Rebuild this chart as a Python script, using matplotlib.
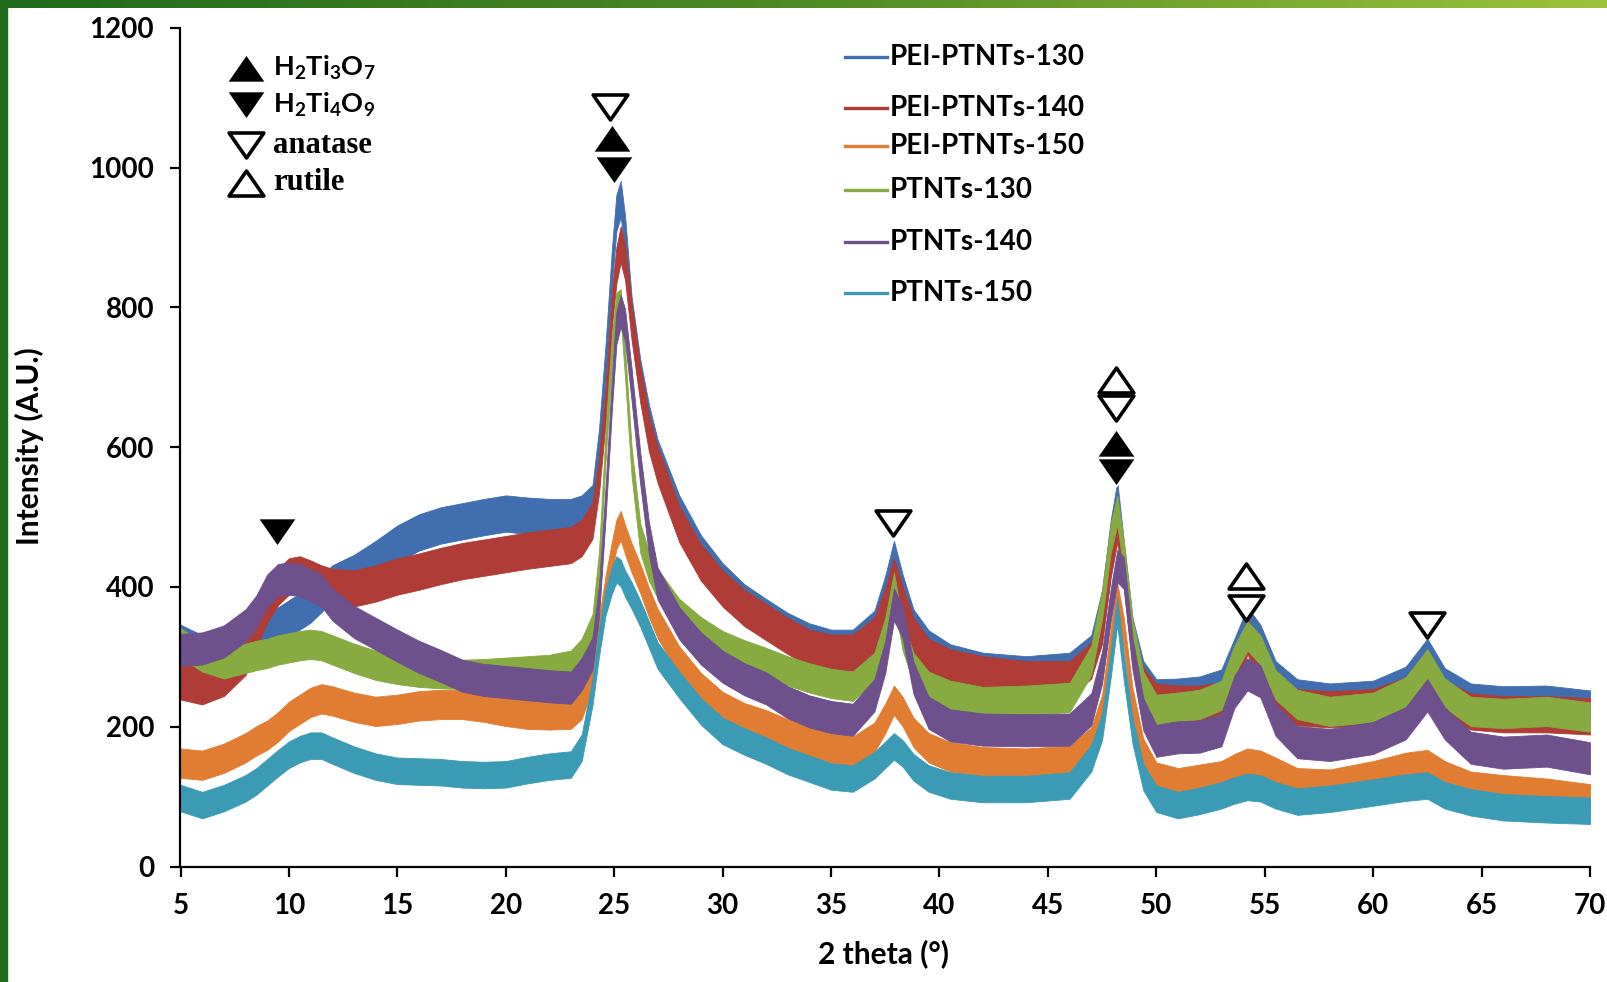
import numpy as np
import matplotlib as mpl
mpl.use('Agg')
import matplotlib.pyplot as plt
from matplotlib.path import Path
from matplotlib.patches import Rectangle
from matplotlib.colors import LinearSegmentedColormap

# values
two_theta = [5, 6, 7, 8, 8.5, 9, 9.5, 10, 10.5, 11,
             11.5, 12, 13, 14, 15, 16, 17, 18, 19, 20,
             21, 22, 23, 23.5, 24, 24.3, 24.6, 24.9, 25.1, 25.3,
             25.5, 25.8, 26.2, 26.6, 27, 28, 29, 30, 31, 32,
             33, 34, 35, 36, 37, 37.5, 37.9, 38.3, 38.8, 39.5,
             40.5, 42, 44, 46, 47, 47.5, 47.9, 48.2, 48.5, 48.9,
             49.4, 50, 51, 52, 53, 53.6, 54.2, 54.8, 55.5, 56.5,
             58, 60, 61.5, 62.5, 63.3, 64.5, 66, 68, 70]

pei_ptnts_130 = [320, 305, 305, 315, 325, 335, 345, 355, 365, 375,
                 390, 405, 420, 440, 462, 478, 488, 494, 500, 505,
                 502, 500, 500, 505, 520, 600, 720, 860, 935, 955,
                 905, 790, 700, 635, 585, 505, 448, 408, 378, 357,
                 337, 322, 313, 313, 340, 390, 440, 392, 342, 312,
                 292, 280, 275, 280, 305, 370, 470, 525, 440, 330,
                 268, 242, 243, 246, 256, 300, 345, 320, 268, 242,
                 236, 240, 260, 300, 258, 236, 232, 233, 226]

pei_ptnts_140 = [265, 258, 270, 300, 340, 375, 400, 415, 418, 412,
                 405, 400, 398, 405, 415, 422, 430, 437, 442, 447,
                 452, 456, 460, 470, 495, 560, 660, 800, 860, 890,
                 865, 780, 690, 620, 575, 490, 435, 398, 370, 350,
                 330, 313, 306, 306, 330, 372, 415, 375, 330, 300,
                 285, 275, 268, 268, 295, 345, 440, 490, 425, 315,
                 258, 236, 233, 233, 238, 265, 330, 290, 245, 228,
                 225, 228, 245, 285, 240, 222, 218, 218, 215]

pei_ptnts_150 = [148, 145, 155, 170, 180, 188, 200, 215, 225, 235,
                 240, 237, 228, 222, 225, 230, 232, 232, 228, 222,
                 218, 217, 218, 232, 275, 335, 395, 445, 475, 488,
                 468, 442, 412, 378, 348, 294, 256, 229, 213, 203,
                 190, 178, 170, 165, 185, 212, 238, 222, 192, 170,
                 157, 150, 148, 152, 178, 225, 320, 385, 335, 235,
                 162, 128, 120, 125, 130, 140, 148, 145, 135, 120,
                 118, 130, 142, 146, 130, 115, 110, 105, 97]

ptnts_130 = [320, 300, 290, 298, 302, 305, 310, 313, 316, 318,
             316, 310, 298, 288, 282, 278, 276, 275, 276, 278,
             280, 282, 288, 305, 340, 430, 600, 740, 800, 805,
             720, 580, 470, 430, 405, 362, 336, 316, 303, 292,
             280, 270, 262, 258, 285, 335, 400, 330, 285, 258,
             245, 236, 238, 242, 295, 375, 470, 510, 445, 335,
             258, 225, 228, 232, 245, 295, 330, 310, 260, 232,
             222, 228, 250, 290, 248, 222, 219, 222, 214]

ptnts_140 = [310, 312, 322, 345, 365, 395, 410, 412, 410, 402,
             395, 375, 350, 333, 316, 300, 287, 273, 267, 264,
             261, 258, 256, 275, 305, 380, 520, 680, 770, 795,
             775, 690, 570, 470, 405, 348, 312, 286, 268, 255,
             235, 222, 214, 210, 245, 300, 375, 350, 270, 220,
             202, 196, 195, 196, 225, 285, 375, 430, 420, 305,
             218, 180, 185, 186, 195, 250, 275, 265, 210, 178,
             174, 184, 205, 245, 205, 170, 163, 166, 155]

ptnts_150 = [98, 88, 98, 112, 122, 135, 148, 160, 168, 173,
             173, 166, 153, 143, 137, 136, 135, 132, 131, 132,
             138, 143, 146, 170, 250, 320, 378, 410, 425, 420,
             405, 388, 362, 332, 302, 260, 222, 194, 179, 166,
             151, 140, 129, 126, 145, 160, 172, 162, 142, 126,
             116, 111, 111, 116, 155, 200, 290, 365, 285, 195,
             128, 97, 88, 94, 102, 109, 114, 112, 102, 93,
             97, 106, 113, 116, 102, 92, 85, 82, 80]

series_names = ['PEI-PTNTs-130', 'PEI-PTNTs-140', 'PEI-PTNTs-150',
                'PTNTs-130', 'PTNTs-140', 'PTNTs-150']
series_values = [pei_ptnts_130, pei_ptnts_140, pei_ptnts_150,
                 ptnts_130, ptnts_140, ptnts_150]

# phase marks above the peaks
peak_x = [24.8, 24.9, 25.0, 9.45, 37.88, 48.15, 48.15, 48.15, 48.15, 54.15, 54.15, 62.47]
peak_y = [1087, 1042, 997, 478, 491, 696, 656, 606, 565, 415, 370, 346]
peak_phase = ['anatase', 'H2Ti3O7', 'H2Ti4O9', 'H2Ti4O9', 'anatase', 'rutile',
              'anatase', 'H2Ti3O7', 'H2Ti4O9', 'rutile', 'anatase', 'anatase']

phase_names = ['H2Ti3O7', 'H2Ti4O9', 'anatase', 'rutile']
phase_labels = ['H$_2$Ti$_3$O$_7$', 'H$_2$Ti$_4$O$_9$', 'anatase', 'rutile']

# styling
colors = ['#416EAF', '#AF3C37', '#E17D32', '#87AA41', '#6E508C', '#3C9BB4']
noise = [26, 26, 21, 21, 23, 19]

plt.rcParams['font.family'] = ['Lato', 'DejaVu Sans']
plt.rcParams['font.weight'] = 'bold'
plt.rcParams['mathtext.fontset'] = 'custom'
plt.rcParams['mathtext.rm'] = 'Lato:bold'
plt.rcParams['mathtext.it'] = 'Lato:bold'
plt.rcParams['mathtext.bf'] = 'Lato:bold'

W, H = 1608, 982
fig = plt.figure(figsize=(W / 100, H / 100), dpi=100)
ax = fig.add_axes([180.5 / W, 1 - 866.6 / H, 1409.5 / W, 838.9 / H])

x = np.array(two_theta)
for vals, c, w in zip(series_values, colors, noise):
    y = np.array(vals, dtype=float)
    ax.fill_between(x, y - w, y + w, color=c, lw=0.6, edgecolor=c)

ax.set_xlim(5, 70)
ax.set_ylim(0, 1200)
ax.set_xticks(range(5, 71, 5))
ax.set_yticks(range(0, 1201, 200))
for s in ['top', 'right']:
    ax.spines[s].set_visible(False)
for s in ['left', 'bottom']:
    ax.spines[s].set_linewidth(1.6)
ax.tick_params(direction='out', length=7, width=1.6, labelsize=20)
ax.tick_params(axis='y', pad=12)
ax.tick_params(axis='x', pad=12)

# triangle markers, a bit wider than tall
up = Path([(-0.5, -0.36), (0.5, -0.36), (0, 0.36), (-0.5, -0.36)],
          [Path.MOVETO, Path.LINETO, Path.LINETO, Path.CLOSEPOLY])
down = Path([(-0.5, 0.36), (0.5, 0.36), (0, -0.36), (-0.5, 0.36)],
            [Path.MOVETO, Path.LINETO, Path.LINETO, Path.CLOSEPOLY])
phase_style = {
    'H2Ti3O7': dict(marker=up, ms=28, mfc='black', mec='white', mew=1.2),
    'H2Ti4O9': dict(marker=down, ms=28, mfc='black', mec='white', mew=1.2),
    'anatase': dict(marker=down, ms=25, mfc='white', mec='black', mew=2.6),
    'rutile': dict(marker=up, ms=25, mfc='white', mec='black', mew=2.6),
}

for px, py, ph in zip(peak_x, peak_y, peak_phase):
    ax.plot([px], [py], ls='none', zorder=5, clip_on=False, **phase_style[ph])

# phase key, top left
key_y = [0.952, 0.908, 0.860, 0.815]
for ph, lab, ky in zip(phase_names, phase_labels, key_y):
    ax.plot([0.0465], [ky], ls='none', transform=ax.transAxes, clip_on=False,
            **phase_style[ph])
    if ph in ('anatase', 'rutile'):
        ax.text(0.0655, ky, lab, transform=ax.transAxes, va='center', ha='left',
                fontsize=22, family='Liberation Serif', fontweight='bold')
    else:
        ax.text(0.0655, ky, lab, transform=ax.transAxes, va='center', ha='left',
                fontsize=19.5)

# series key, irregular row spacing as in the original
legend_y = [0.965, 0.904, 0.859, 0.806, 0.745, 0.684]
for name, c, ly in zip(series_names, colors, legend_y):
    ax.plot([0.4714, 0.5012], [ly, ly], color=c, lw=2.4, transform=ax.transAxes,
            clip_on=False)
    ax.text(0.503, ly, name, transform=ax.transAxes, va='center', ha='left',
            fontsize=20)

fig.text(29 / W, 1 - 446 / H, 'Intensity (A.U.)', rotation=90, ha='center',
         va='center', fontsize=21.5)
fig.text(884 / W, 1 - 954 / H, '2 theta (°)', ha='center', va='center',
         fontsize=21.5)

# green frame of the source page
bar = fig.add_axes([0, 1 - 8.5 / H, 1, 8.5 / H])
bar.imshow(np.linspace(0, 1, 256)[None, :], aspect='auto',
           cmap=LinearSegmentedColormap.from_list('g', ['#1f6a1c', '#4f8a26', '#9dc23c']))
bar.axis('off')
fig.patches.append(Rectangle((0, 0), 7 / W, 1, transform=fig.transFigure,
                             color='#226a1b', zorder=10))

fig.savefig('out.png', dpi=100)
plt.close(fig)
